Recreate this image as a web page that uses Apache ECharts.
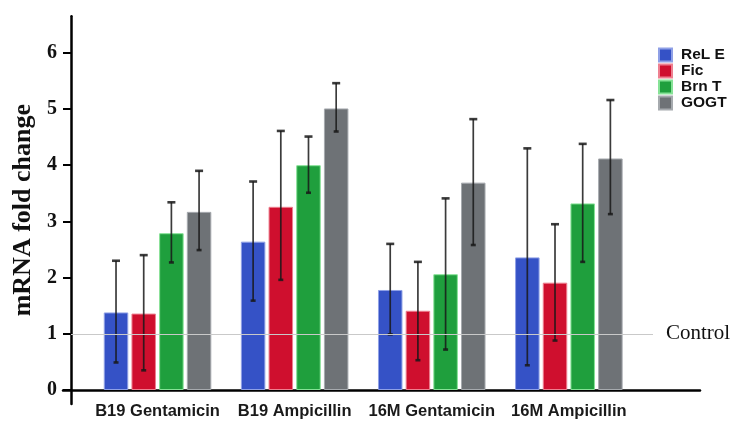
<!DOCTYPE html>
<html>
<head>
<meta charset="utf-8">
<script src="https://cdn.jsdelivr.net/npm/echarts@6/dist/echarts.min.js"></script>
<style>
html,body{margin:0;padding:0;background:#fff;}
#c{width:740px;height:421px;}
</style>
</head>
<body>
<div id="c"></div>
<script>
const categories = ['B19 Gentamicin', 'B19 Ampicillin', '16M Gentamicin', '16M Ampicillin'];
const seriesNames = ['ReL E', 'Fic', 'Brn T', 'GOGT'];
const relE = [1.38, 2.64, 1.78, 2.36];
const relELow = [0.49, 1.59, 0.99, 0.44];
const relEHigh = [2.30, 3.71, 2.60, 4.30];
const fic = [1.36, 3.26, 1.41, 1.91];
const ficLow = [0.35, 1.96, 0.53, 0.88];
const ficHigh = [2.40, 4.61, 2.28, 2.95];
const brnT = [2.79, 4.00, 2.06, 3.32];
const brnTLow = [2.27, 3.51, 0.72, 2.28];
const brnTHigh = [3.34, 4.51, 3.41, 4.38];
const gogt = [3.17, 5.01, 3.69, 4.12];
const gogtLow = [2.49, 4.60, 2.58, 3.13];
const gogtHigh = [3.90, 5.46, 4.82, 5.16];
const yTicks = [0, 1, 2, 3, 4, 5, 6];
const controlValue = 1;
const controlLabel = 'Control';
const yTitle = 'mRNA fold change';

const colors = ['#3552c6', '#cf0f2e', '#1f9f3d', '#6e7276'];
const borders = ['#8fa0e6', '#ee8090', '#86e296', '#a6aaae'];
const BAR_W = 24.5;
const BAR_GAP = 0.13;

const values = [relE, fic, brnT, gogt];
const lows = [relELow, ficLow, brnTLow, gogtLow];
const highs = [relEHigh, ficHigh, brnTHigh, gogtHigh];

const chart = echarts.init(document.getElementById('c'), null, {renderer: 'canvas'});

const series = [];
seriesNames.forEach((name, i) => {
  series.push({
    name: name,
    type: 'bar',
    xAxisIndex: 0, yAxisIndex: 0,
    barWidth: BAR_W,
    barGap: (BAR_GAP * 100) + '%',
    data: values[i],
    itemStyle: {color: colors[i], borderColor: borders[i], borderWidth: 1},
    z: 2
  });
});
seriesNames.forEach((name, i) => {
  series.push({
    name: 'err ' + name,
    type: 'custom',
    xAxisIndex: 0, yAxisIndex: 0,
    z: 4,
    data: categories.map((c, k) => [k, lows[i][k], highs[i][k]]),
    renderItem: function (params, api) {
      const k = api.value(0);
      const lo = api.coord([k, api.value(1)]);
      const hi = api.coord([k, api.value(2)]);
      const step = BAR_W * (1 + BAR_GAP);
      const x = lo[0] + (i - 1.5) * step;
      const col = 'rgba(25,25,25,0.85)';
      return {
        type: 'group',
        children: [
          {type: 'line', shape: {x1: x, y1: lo[1], x2: x, y2: hi[1]}, style: {stroke: col, lineWidth: 1.7}},
          {type: 'line', shape: {x1: x - 4, y1: hi[1], x2: x + 4, y2: hi[1]}, style: {stroke: col, lineWidth: 2.6}},
          {type: 'line', shape: {x1: x - 2.5, y1: lo[1], x2: x + 2.5, y2: lo[1]}, style: {stroke: col, lineWidth: 2.6}}
        ]
      };
    }
  });
});
// frame axes series carrying the control reference line
series.push({
  name: 'frame',
  type: 'line',
  xAxisIndex: 1, yAxisIndex: 1,
  data: [],
  silent: true,
  markLine: {
    symbol: 'none',
    silent: true,
    lineStyle: {color: '#c9c9c9', width: 1.2, type: 'solid'},
    label: {
      show: true, position: 'end', formatter: controlLabel, distance: 13,
      fontFamily: 'Liberation Serif', fontSize: 21, color: '#111'
    },
    data: [[{coord: [0, controlValue]}, {coord: [582, controlValue]}]]
  },
  z: 1
});

const option = {
  animation: false,
  backgroundColor: '#ffffff',
  legend: {
    data: seriesNames.map(n => ({name: n, icon: 'rect'})),
    orient: 'vertical',
    left: 653, top: 42,
    itemWidth: 13, itemHeight: 13, itemGap: 0,
    textStyle: {fontFamily: 'Liberation Sans', fontWeight: 'bold', fontSize: 15.5, color: '#111', lineHeight: 16, padding: [0, 0, 0, 4]}
  },
  grid: [
    {left: 89, right: 102.6, top: 16.3, bottom: 31},
    {left: 63, right: 40, top: 16.3, bottom: 17}
  ],
  xAxis: [
    {
      type: 'category', gridIndex: 0, data: categories,
      axisLine: {show: false}, axisTick: {show: false},
      axisLabel: {interval: 0, hideOverlap: false, fontFamily: 'Liberation Sans', fontWeight: 'bold', fontSize: 16.5, color: '#1a1a1a', margin: 13}
    },
    {
      type: 'value', gridIndex: 1, min: -8, max: 629,
      axisLine: {show: true, onZero: true, lineStyle: {color: '#000', width: 2.5}},
      axisTick: {show: false}, axisLabel: {show: false}, splitLine: {show: false}
    }
  ],
  yAxis: [
    {type: 'value', gridIndex: 0, min: 0, max: 6.65, show: false, splitLine: {show: false}},
    {
      type: 'value', gridIndex: 1, min: -0.25, max: 6.65,
      name: yTitle, nameLocation: 'middle', nameRotate: 90, nameGap: 23,
      nameTextStyle: {fontFamily: 'Liberation Serif', fontWeight: 'bold', fontSize: 26, color: '#111'},
      axisLine: {show: true, onZero: true, lineStyle: {color: '#000', width: 2.5}},
      axisTick: {show: true, length: 8, lineStyle: {color: '#000', width: 2}, customValues: yTicks},
      axisLabel: {customValues: yTicks, fontFamily: 'Liberation Serif', fontWeight: 'bold', fontSize: 20, color: '#111', margin: 6},
      splitLine: {show: false}
    }
  ],
  series: series
};
chart.setOption(option);
</script>
</body>
</html>
